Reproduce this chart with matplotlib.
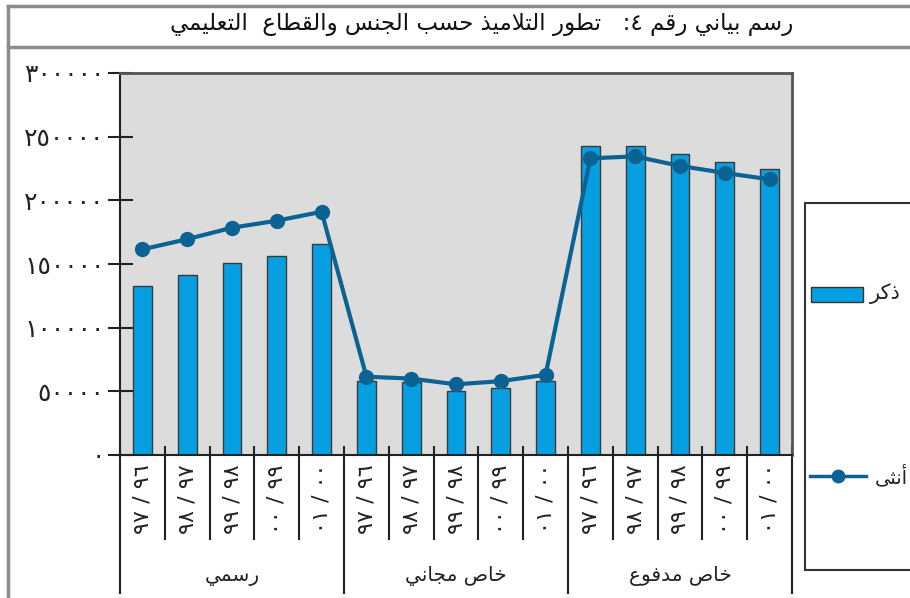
import matplotlib
matplotlib.use("Agg")
import matplotlib.pyplot as plt
from matplotlib.lines import Line2D
from matplotlib.patches import Rectangle

# ---- data ----
title = "رسم بياني رقم ٤:   تطور التلاميذ حسب الجنس والقطاع  التعليمي"
sectors = ["رسمي", "خاص مجاني", "خاص مدفوع"]
years = ["٩٦/٩٧", "٩٧/٩٨", "٩٨/٩٩", "٩٩/٠٠", "٠٠/٠١"]
male = [133000, 141000, 151000, 156000, 166000,
        58000, 57000, 50000, 53000, 58000,
        243000, 243000, 236000, 230000, 224500]
female = [161500, 169500, 178500, 184000, 191000,
          61500, 60000, 55500, 58000, 63000,
          233000, 234500, 227000, 221500, 216500]
yticks = [0, 50000, 100000, 150000, 200000, 250000, 300000]
legend_male = "ذكر"
legend_female = "أنثى"

# ---- minimal Arabic shaping (matplotlib has no shaping / bidi) ----
FORMS = {  # isolated, final, initial, medial
    "ا": ("\uFE8D", "\uFE8E", None, None), "أ": ("\uFE83", "\uFE84", None, None),
    "ب": ("\uFE8F", "\uFE90", "\uFE91", "\uFE92"), "ت": ("\uFE95", "\uFE96", "\uFE97", "\uFE98"),
    "ث": ("\uFE99", "\uFE9A", "\uFE9B", "\uFE9C"), "ج": ("\uFE9D", "\uFE9E", "\uFE9F", "\uFEA0"),
    "ح": ("\uFEA1", "\uFEA2", "\uFEA3", "\uFEA4"), "خ": ("\uFEA5", "\uFEA6", "\uFEA7", "\uFEA8"),
    "د": ("\uFEA9", "\uFEAA", None, None), "ذ": ("\uFEAB", "\uFEAC", None, None),
    "ر": ("\uFEAD", "\uFEAE", None, None), "س": ("\uFEB1", "\uFEB2", "\uFEB3", "\uFEB4"),
    "ص": ("\uFEB9", "\uFEBA", "\uFEBB", "\uFEBC"), "ط": ("\uFEC1", "\uFEC2", "\uFEC3", "\uFEC4"),
    "ع": ("\uFEC9", "\uFECA", "\uFECB", "\uFECC"), "ف": ("\uFED1", "\uFED2", "\uFED3", "\uFED4"),
    "ق": ("\uFED5", "\uFED6", "\uFED7", "\uFED8"), "ك": ("\uFED9", "\uFEDA", "\uFEDB", "\uFEDC"),
    "ل": ("\uFEDD", "\uFEDE", "\uFEDF", "\uFEE0"), "م": ("\uFEE1", "\uFEE2", "\uFEE3", "\uFEE4"),
    "ن": ("\uFEE5", "\uFEE6", "\uFEE7", "\uFEE8"), "و": ("\uFEED", "\uFEEE", None, None),
    "ى": ("\uFEEF", "\uFEF0", None, None), "ي": ("\uFEF1", "\uFEF2", "\uFEF3", "\uFEF4"),
}
LAM_ALEF = {"ا": ("\uFEFB", "\uFEFC")}


def shape_word(word):
    if not any(c in FORMS for c in word):
        # number token: trailing punctuation goes to the left in RTL
        digits = word.rstrip(":")
        return word[len(digits):] + digits
    chars = []
    i = 0
    while i < len(word):
        if word[i] == "ل" and i + 1 < len(word) and word[i + 1] in LAM_ALEF:
            chars.append(("LA", word[i + 1]))
            i += 2
        else:
            chars.append((word[i], None))
            i += 1
    out = []
    for k, (c, extra) in enumerate(chars):
        prev = chars[k - 1][0] if k > 0 else None
        nxt = chars[k + 1][0] if k + 1 < len(chars) else None
        joins_prev = prev is not None and prev in FORMS and FORMS[prev][2] is not None
        if c == "LA":
            out.append(LAM_ALEF[extra][1 if joins_prev else 0])
            continue
        if c not in FORMS:
            out.append(c)
            continue
        iso, fin, ini, med = FORMS[c]
        joins_next = ini is not None and (nxt in FORMS or nxt == "LA")
        if joins_prev and joins_next:
            out.append(med)
        elif joins_prev:
            out.append(fin)
        elif joins_next:
            out.append(ini)
        else:
            out.append(iso)
    return "".join(reversed(out))


def ar(text):
    # visual order: words right-to-left, each word shaped
    return " ".join(shape_word(w) if w else "" for w in reversed(text.split(" ")))


def ar_digits(n):
    return "".join(chr(0x0660 + int(d)) for d in str(n))


def year_label(y):
    a, b = y.split("/")
    return b + " / " + a


plt.rcParams["font.family"] = ["DejaVu Sans"]

fig = plt.figure(figsize=(9.1, 5.98), dpi=100)

# outer frame and title strip
frame_col = "#8c8c8c"
fig.add_artist(Line2D([8 / 910, 8 / 910], [0, 1 - 6 / 598], color=frame_col, lw=2.5))
fig.add_artist(Line2D([8 / 910, 1], [1 - 6 / 598, 1 - 6 / 598], color=frame_col, lw=2.5))
fig.add_artist(Line2D([8 / 910, 1], [1 - 47 / 598, 1 - 47 / 598], color=frame_col, lw=2.5))
fig.text(482 / 910, 1 - 25 / 598, ar(title), ha="center", va="center", fontsize=16.5, color="#111111")

ax = fig.add_axes([120 / 910, 1 - 455 / 598, 672 / 910, 382 / 598])
ax.set_facecolor("#dcdcdc")

n = len(male)
x = list(range(n))
ax.bar(x, male, width=0.42, color="#06a0e2", edgecolor="#3a3a3a", linewidth=1.0, zorder=2)
ax.plot(x, female, color="#0b6393", lw=3, marker="o", markersize=10, zorder=3)

ax.set_xlim(-0.5, n - 0.5)
ax.set_ylim(0, 300000)
ax.set_yticks(yticks)
ax.set_yticklabels([ar_digits(v) for v in yticks], fontsize=18, color="#222222")
ax.tick_params(axis="y", direction="inout", length=18, width=1.5, color="#222222", pad=2)
ax.set_xticks([])

for side in ["left", "bottom"]:
    ax.spines[side].set_color("#222222")
    ax.spines[side].set_linewidth(1.5)
for side in ["top", "right"]:
    ax.spines[side].set_color("#555555")
    ax.spines[side].set_linewidth(2)

# category labels and separators below the axis
trans = ax.get_xaxis_transform()
depth_cat = 84 / 382
depth_grp = 138 / 382
for i in range(n + 1):
    xb = i - 0.5
    is_group = i % 5 == 0
    ax.plot([xb, xb], [0.02, -(depth_grp if is_group else depth_cat)], transform=trans,
            color="#222222", lw=1.5, clip_on=False)
for i in range(n):
    ax.text(i, -9 / 382, year_label(years[i % 5]), transform=trans, rotation=90,
            ha="center", va="top", fontsize=16, color="#222222")
for g, name in enumerate(sectors):
    ax.text(g * 5 + 2, -121 / 382, ar(name), transform=trans,
            ha="center", va="center", fontsize=14.5, color="#222222")

# legend box, running off the right edge like the reference
fig.add_artist(Rectangle((805 / 910, 1 - 570 / 598), 0.2, 367 / 598, transform=fig.transFigure,
                         facecolor="white", edgecolor="#333333", lw=1.5, clip_on=False))
fig.add_artist(Rectangle((811 / 910, 1 - 302 / 598), 52 / 910, 15 / 598, transform=fig.transFigure,
                         facecolor="#06a0e2", edgecolor="#333333", lw=1.0))
fig.text(870 / 910, 1 - 294 / 598, ar(legend_male), ha="left", va="center",
         fontsize=15, color="#222222")
fig.add_artist(Line2D([810 / 910, 866 / 910], [1 - 476 / 598, 1 - 476 / 598],
                      color="#0b6393", lw=2.5))
fig.add_artist(Line2D([838 / 910], [1 - 476 / 598], color="#0b6393", marker="o", markersize=9, lw=0))
fig.text(875 / 910, 1 - 476 / 598, ar(legend_female), ha="left", va="center",
         fontsize=14, color="#222222")

fig.savefig("out.png", dpi=100)
